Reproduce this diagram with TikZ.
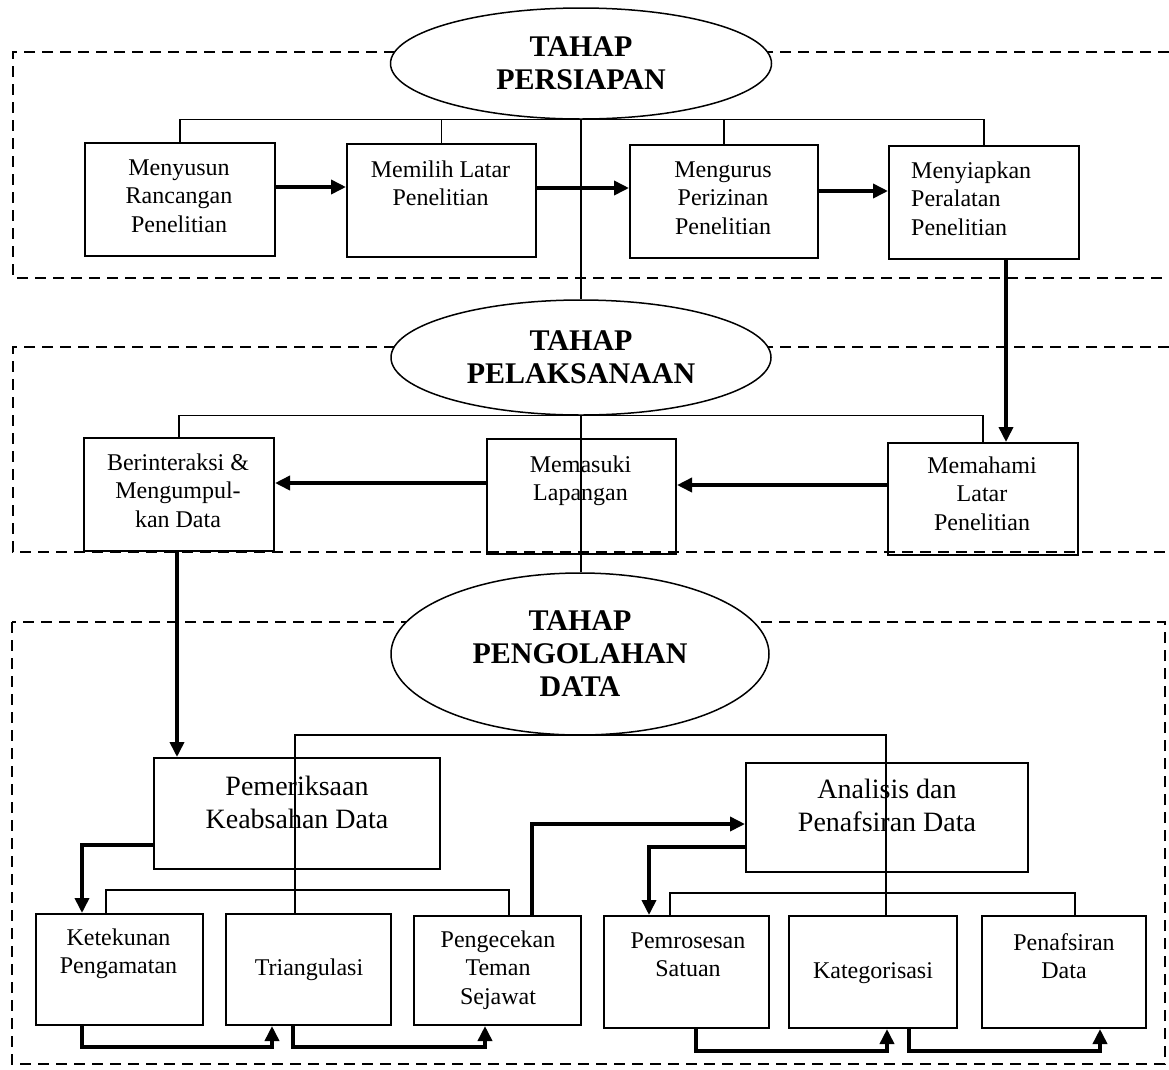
\documentclass[tikz,border=0pt]{standalone}
\usepackage{fontspec}
\setmainfont{Liberation Serif}
\usetikzlibrary{shapes.geometric,arrows.meta}
\newcommand\mlines[2]{\parbox[t]{#1}{\centering #2}}
\begin{document}
\begin{tikzpicture}[x=1pt,y=-1pt,
  box/.style={draw, line width=2pt, inner sep=0, anchor=north west},
  txt/.style={inner sep=0, anchor=base, font=\fontsize{24}{28.5}\selectfont},
  bigtxt/.style={inner sep=0, anchor=base, font=\fontsize{28}{33}\selectfont},
  oval/.style={ellipse, draw, line width=1.5pt, fill=white, inner sep=0, align=center, font=\bfseries\fontsize{30}{33}\selectfont},
  thinline/.style={line width=1.3pt},
  arr/.style={line width=3.6pt, -{Triangle[length=15pt,width=14pt]}},
  dbox/.style={line width=2.2pt, dash pattern=on 11pt off 7pt}
]
\useasboundingbox (0,0) rectangle (1169,1069);
% dashed frames
\draw[dbox] (1169,52) -- (13,52) -- (13,278) -- (1169,278);
\draw[dbox] (1169,347) -- (13,347) -- (13,552) -- (1169,552);
\draw[dbox] (12,622) rectangle (1165,1064);
% ellipses
\node[oval, minimum width=381pt, minimum height=111pt] (e1) at (581,63.5) {TAHAP\\PERSIAPAN};
\node[oval, minimum width=380pt, minimum height=115pt] (e2) at (581,357.5) {TAHAP\\PELAKSANAAN};
\node[oval, minimum width=378pt, minimum height=162pt] (e3) at (580,654) {TAHAP\\PENGOLAHAN\\DATA};
% boxes
\node[box, minimum width=190pt, minimum height=113pt] (b1) at (84,142) {};
\node[box, minimum width=189pt, minimum height=113pt] (b2) at (346,143) {};
\node[box, minimum width=188pt, minimum height=113pt] (b3) at (629,144) {};
\node[box, minimum width=190pt, minimum height=113pt] (b4) at (888,145) {};
\node[box, minimum width=190pt, minimum height=113pt] (m1) at (83,437) {};
\node[box, minimum width=189pt, minimum height=115pt] (m2) at (486,438) {};
\node[box, minimum width=190pt, minimum height=112pt] (m3) at (887,442) {};
\node[box, minimum width=286pt, minimum height=111pt] (p1) at (153,757) {};
\node[box, minimum width=282pt, minimum height=109pt] (p2) at (745,762) {};
\node[box, minimum width=167pt, minimum height=111pt] (k1) at (35,913) {};
\node[box, minimum width=165pt, minimum height=111pt] (k2) at (225,913) {};
\node[box, minimum width=167pt, minimum height=109pt] (k3) at (413,915) {};
\node[box, minimum width=165pt, minimum height=112pt] (k4) at (603,915) {};
\node[box, minimum width=168pt, minimum height=112pt] (k5) at (788,915) {};
\node[box, minimum width=164pt, minimum height=112pt] (k6) at (981,915) {};
% texts
\node[txt] (t1) at (179,175) {\mlines{180pt}{Menyusun\\Rancangan\\Penelitian}};
\node[txt] (t2) at (440.5,177) {\mlines{180pt}{Memilih Latar\\Penelitian}};
\node[txt] (t3) at (723,177) {\mlines{180pt}{Mengurus\\Perizinan\\Penelitian}};
\node[txt, anchor=base west] (t4) at (911,178) {\parbox[t]{160pt}{\raggedright Menyiapkan\\Peralatan\\Penelitian}};
\node[txt] (t5) at (178,470) {\mlines{180pt}{Berinteraksi \&\\Mengumpul-\\kan Data}};
\node[txt] (t6) at (580.5,472) {\mlines{180pt}{Memasuki\\Lapangan}};
\node[txt] (t7) at (982,473) {\mlines{180pt}{Memahami\\Latar\\Penelitian}};
\node[bigtxt] (t8) at (297,795) {\mlines{280pt}{Pemeriksaan\\Keabsahan Data}};
\node[bigtxt] (t9) at (887,798) {\mlines{280pt}{Analisis dan\\Penafsiran Data}};
\node[txt] (t10) at (118.5,945) {\mlines{160pt}{Ketekunan\\Pengamatan}};
\node[txt] (t11) at (309,975) {Triangulasi};
\node[txt] (t12) at (498,947) {\mlines{160pt}{Pengecekan\\Teman\\Sejawat}};
\node[txt] (t13) at (688,948) {\mlines{160pt}{Pemrosesan\\Satuan}};
\node[txt] (t14) at (873,978) {Kategorisasi};
\node[txt] (t15) at (1064,950) {\mlines{160pt}{Penafsiran\\Data}};
% thin connectors
\draw[thinline] (e1.south) -- (e2.north);
\draw[thinline] (b1.north) -- (b1.north |- e1.south) -- (b4.north |- e1.south) -- (b4.north);
\draw[thinline] (b2.north) -- (b2.north |- e1.south);
\draw[thinline] (b3.north) -- (b3.north |- e1.south);
\draw[thinline] (e2.south) -- (e2.south |- e3.north);
\draw[thinline] (m1.north) -- (m1.north |- e2.south) -- (m3.north |- e2.south) -- (m3.north);
\coordinate (c1) at (295,735); \coordinate (c2) at (886,735);
\draw[thinline] (k2.north -| c1) -- (c1) -- (c2) -- (k5.north -| c2);
\coordinate (c3) at (106,890); \coordinate (c4) at (509,890);
\draw[thinline] (k1.north -| c3) -- (c3) -- (c4) -- (k3.north -| c4);
\coordinate (c5) at (670,893); \coordinate (c6) at (1075,893);
\draw[thinline] (k4.north -| c5) -- (c5) -- (c6) -- (k6.north -| c6);
% thick arrows
\coordinate (w1) at (0,187); \coordinate (w2) at (0,188); \coordinate (w3) at (0,191);
\coordinate (w4) at (1006,0); \coordinate (w5) at (0,485); \coordinate (w6) at (0,483);
\coordinate (w7) at (177,0); \coordinate (w8) at (82,845);
\coordinate (w9) at (82,1047); \coordinate (w10) at (272,1047);
\coordinate (w11) at (293,1047); \coordinate (w12) at (485,1047);
\coordinate (w13) at (532,824); \coordinate (w14) at (649,847);
\coordinate (w15) at (696,1051); \coordinate (w16) at (887,1051);
\coordinate (w17) at (909,1051); \coordinate (w18) at (1100,1051);
\draw[arr] (b1.east |- w1) -- (b2.west |- w1);
\draw[arr] (b2.east |- w2) -- (b3.west |- w2);
\draw[arr] (b3.east |- w3) -- (b4.west |- w3);
\draw[arr] (b4.south -| w4) -- (m3.north -| w4);
\draw[arr] (m3.west |- w5) -- (m2.east |- w5);
\draw[arr] (m2.west |- w6) -- (m1.east |- w6);
\draw[arr] (m1.south -| w7) -- (p1.north -| w7);
\draw[arr] (p1.west |- w8) -- (w8) -- (k1.north -| w8);
\draw[arr] (k1.south -| w9) -- (w9) -- (w10) -- (k2.south -| w10);
\draw[arr] (k2.south -| w11) -- (w11) -- (w12) -- (k3.south -| w12);
\draw[arr] (k3.north -| w13) -- (w13) -- (p2.west |- w13);
\draw[arr] (p2.west |- w14) -- (w14) -- (k4.north -| w14);
\draw[arr] (k4.south -| w15) -- (w15) -- (w16) -- (k5.south -| w16);
\draw[arr] (k5.south -| w17) -- (w17) -- (w18) -- (k6.south -| w18);
\end{tikzpicture}
\end{document}
